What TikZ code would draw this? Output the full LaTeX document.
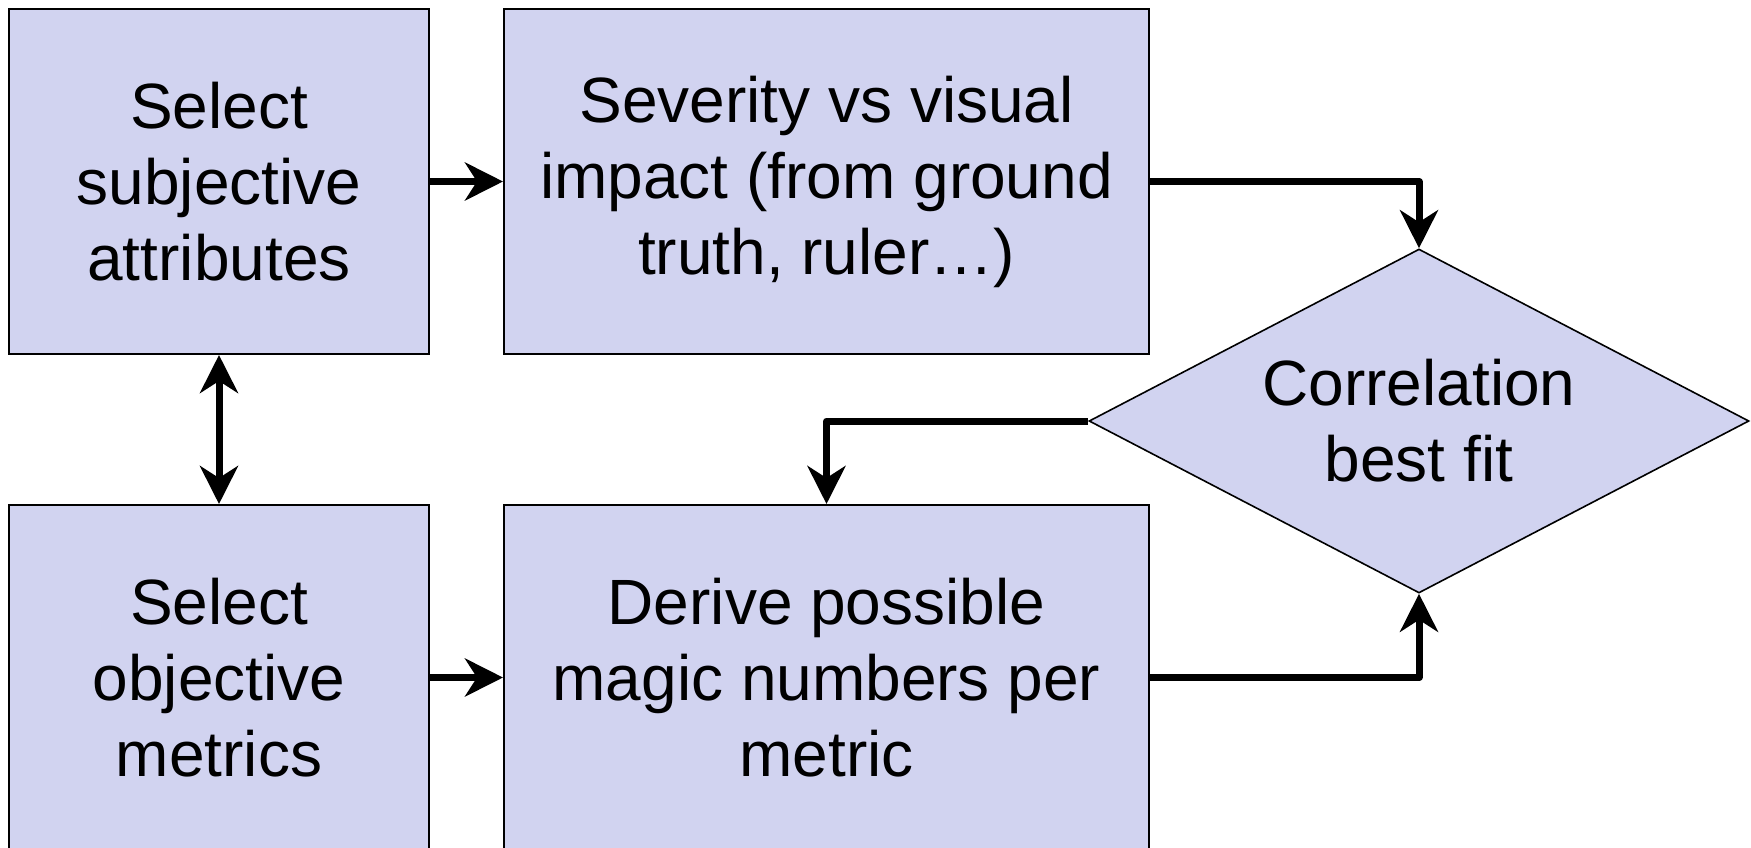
\documentclass[tikz,border=0pt]{standalone}
\usepackage{fontspec}
\setmainfont{Liberation Sans}
\usetikzlibrary{shapes.geometric,arrows.meta}
\definecolor{boxfill}{RGB}{209,211,240}
\tikzset{
  stepbox/.style={draw=black, line width=1pt, fill=boxfill, align=center, inner sep=0pt,
    minimum height=172.5pt, font=\fontsize{32}{38}\selectfont},
  decision/.style={shape=diamond, draw=black, line width=0.8pt, fill=boxfill, align=center,
    inner sep=0pt, aspect=1.92, minimum width=330pt, minimum height=172pt,
    font=\fontsize{32}{38}\selectfont},
  flow/.style={line width=3.5pt, line join=round, -{Stealth[length=19pt,width=19pt,inset=6pt]}},
  flowboth/.style={line width=3.5pt, {Stealth[length=19pt,width=19pt,inset=6pt]}-{Stealth[length=19pt,width=19pt,inset=6pt]}}
}
\begin{document}
\begin{tikzpicture}[x=0.5pt,y=-0.5pt]
\useasboundingbox (0,0) rectangle (1751,847);
\node[stepbox, minimum width=210pt] (b1) at (219,181.5) {Select\\subjective\\attributes};
\node[stepbox, minimum width=322.5pt] (b2) at (826.5,181.5) {Severity vs visual\\impact (from ground\\truth, ruler…)};
\node[decision] (dia) at (1419,421) {Correlation\\best fit};
\node[stepbox, minimum width=210pt] (b3) at (219,677.5) {Select\\objective\\metrics};
\node[stepbox, minimum width=322.5pt] (b4) at (826.5,677.5) {Derive possible\\magic numbers per\\metric};
\draw[flow] (b1.east) -- (b2.west);
\draw[flow] (b3.east) -- (b4.west);
\draw[flowboth] (b1.south) -- (b3.north);
\draw[flow] (b2.east) -| (dia.north);
\draw[flow] (b4.east) -| (dia.south);
\draw[flow] (dia.west) -| (b4.north);
\end{tikzpicture}
\end{document}
